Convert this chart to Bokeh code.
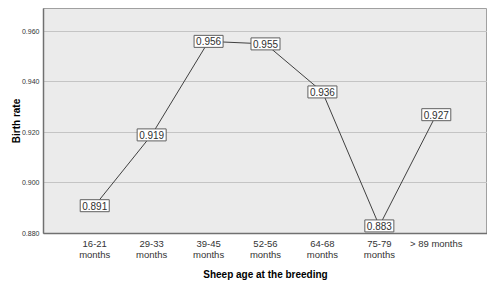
from bokeh.plotting import figure
from bokeh.models import FactorRange, Range1d, ColumnDataSource, FixedTicker, NumeralTickFormatter
from bokeh.core.properties import value
from bokeh.embed import file_html
from bokeh.resources import INLINE

categories = ["16-21\nmonths", "29-33\nmonths", "39-45\nmonths", "52-56\nmonths",
              "64-68\nmonths", "75-79\nmonths", "> 89 months"]
birth_rate = [0.891, 0.919, 0.956, 0.955, 0.936, 0.883, 0.927]
y_ticks = [0.880, 0.900, 0.920, 0.940, 0.960]

FONT = "Liberation Sans"

src = ColumnDataSource(dict(x=categories, y=birth_rate,
                            lab=["%.3f" % v for v in birth_rate]))

p = figure(width=487, height=282, output_backend="svg", toolbar_location=None,
           x_range=FactorRange(*categories, range_padding=0.4, range_padding_units="absolute"),
           y_range=Range1d(0.880, 0.969),
           min_border_left=43, min_border_right=0, min_border_top=8, min_border_bottom=45)
p.background_fill_color = "#ebebeb"
p.border_fill_color = "white"
p.outline_line_color = "#a0a0a0"
p.outline_line_width = 1

p.line("x", "y", source=src, line_color="#404040", line_width=1)
p.text("x", "y", text="lab", source=src, text_align="center",
       text_baseline="middle", text_font_size="10px", text_font=value(FONT),
       text_color="#303030", background_fill_color="white",
       border_line_color="#606060", border_line_width=1, padding=2)

p.xgrid.grid_line_color = None
p.ygrid.grid_line_color = "#c4c4c4"
p.ygrid.grid_line_width = 1
p.yaxis.ticker = FixedTicker(ticks=y_ticks)
p.yaxis.formatter = NumeralTickFormatter(format="0.000")

for ax in (p.xaxis[0], p.yaxis[0]):
    ax.axis_line_color = "#707070"
    ax.axis_line_width = 1.5
    ax.major_tick_line_color = None
    ax.minor_tick_line_color = None
    ax.major_tick_out = 0
    ax.major_tick_in = 0
    ax.minor_tick_out = 0
    ax.minor_tick_in = 0
    ax.major_label_text_font = FONT
    ax.major_label_text_color = "#333333"
    ax.axis_label_text_font = FONT
    ax.axis_label_text_font_style = "bold"
    ax.axis_label_text_font_size = "10px"
    ax.axis_label_text_color = "#000000"

p.yaxis.major_label_text_font_size = "7px"
p.yaxis.major_label_standoff = 4
p.yaxis.axis_label = "Birth rate"
p.yaxis.axis_label_standoff = -3

p.xaxis.major_label_text_font_size = "9.5px"
p.xaxis.major_label_text_line_height = 1.0
p.xaxis.major_label_standoff = 4
p.xaxis.axis_label = "Sheep age at the breeding"
p.xaxis.axis_label_standoff = 6

open("out.html", "w").write(file_html(p, INLINE))
